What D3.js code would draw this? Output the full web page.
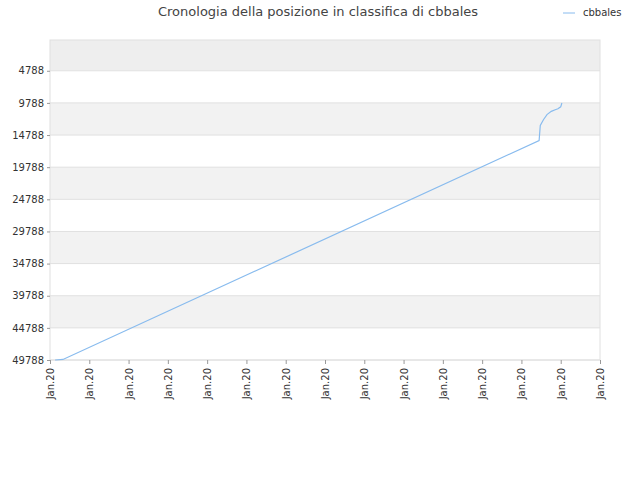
<!DOCTYPE html><html><head><meta charset="utf-8">
<script src="https://cdn.jsdelivr.net/npm/d3@7"></script>
<style>body{margin:0;background:#fff}</style></head><body><svg id="c" width="640" height="480"></svg>
<script>
const title="Cronologia della posizione in classifica di cbbales";
const seriesName="cbbales";
const yTicks=[4788,9788,14788,19788,24788,29788,34788,39788,44788,49788];
const xTickLabels=Array(15).fill("Jan.20");
const days=[1.3,3.3,124.5,124.8,125.6,126.5,127.6,128.6,129.3,130.0,130.3];
const ranks=[49788,49700,15650,13300,12400,11600,11100,10850,10700,10400,9800];
const svg=d3.select("#c"),L=50,R=600,T=40,B=360;
const x=d3.scaleLinear().domain([0,140]).range([L,R]);
const y=d3.scaleLinear().domain([1,49788]).range([T,B]);
const edges=[1,...yTicks];
for(let i=0;i<edges.length-1;i++){
  const shade=i===0?"#eeeeee":(i%2===0?"#f2f2f2":"#ffffff");
  svg.append("rect").attr("x",L).attr("y",y(edges[i])).attr("width",R-L).attr("height",y(edges[i+1])-y(edges[i])).attr("fill",shade);
}
yTicks.forEach(v=>svg.append("line").attr("x1",L).attr("x2",R).attr("y1",y(v)).attr("y2",y(v)).attr("stroke","#e0e0e0"));
svg.append("rect").attr("x",L).attr("y",T).attr("width",R-L).attr("height",B-T).attr("fill","none").attr("stroke","#e0e0e0");
const ya=svg.append("g").attr("transform",`translate(${L},0)`).call(d3.axisLeft(y).tickValues(yTicks).tickFormat(d=>d).tickSize(3));
ya.select(".domain").remove();
ya.selectAll("text").attr("font-family","DejaVu Sans").attr("font-size",10).attr("fill","#333");
ya.selectAll("line").attr("stroke","#999");
const xs=d3.range(15).map(i=>i*10);
const xa=svg.append("g").attr("transform",`translate(0,${B})`).call(d3.axisBottom(x).tickValues(xs).tickFormat((d,i)=>xTickLabels[i]).tickSize(4));
xa.select(".domain").remove();
xa.selectAll("line").attr("stroke","#999");
xa.selectAll("text").attr("font-family","DejaVu Sans").attr("font-size",10).attr("fill","#333")
  .attr("transform","rotate(-90)").attr("text-anchor","end").attr("x",-8).attr("y",0).attr("dy","0.35em");
const line=d3.line().x((d,i)=>x(days[i])).y(d=>y(d));
svg.append("path").datum(ranks).attr("d",line).attr("fill","none").attr("stroke","#88bbee").attr("stroke-width",1.2);
svg.append("text").attr("x",318).attr("y",16).attr("text-anchor","middle").attr("font-family","DejaVu Sans").attr("font-size",13).attr("fill","#444").text(title);
svg.append("line").attr("x1",563).attr("x2",575).attr("y1",13).attr("y2",13).attr("stroke","#88bbee");
svg.append("text").attr("x",583).attr("y",16).attr("font-family","DejaVu Sans").attr("font-size",10).attr("fill","#333").text(seriesName);
</script></body></html>
